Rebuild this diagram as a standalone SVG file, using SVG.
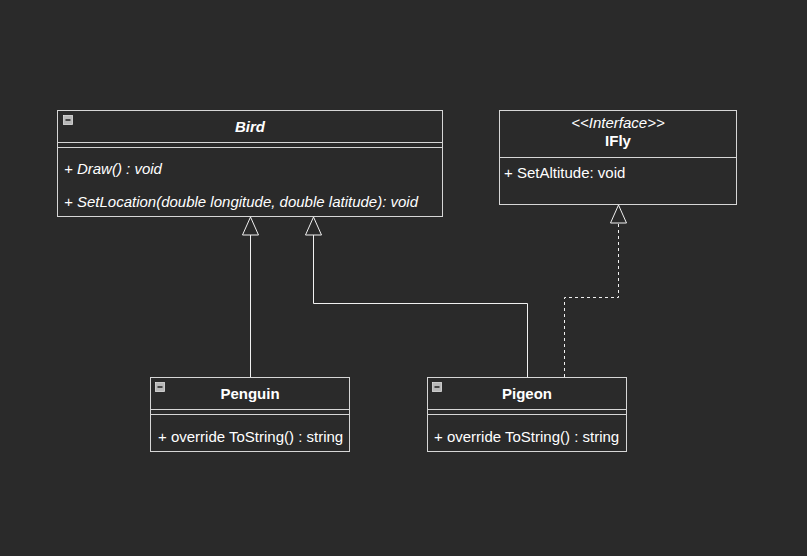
<svg xmlns="http://www.w3.org/2000/svg" width="807" height="556" viewBox="0 0 807 556">
  <defs>
    <style>
      .box { fill: #2a2a2a; stroke: #d6d6d6; stroke-width: 1; }
      .sep { stroke: #d6d6d6; stroke-width: 1; fill: none; }
      .edge { stroke: #f0f0f0; stroke-width: 1; fill: none; }
      .dash { stroke-dasharray: 3 3; }
      .head { fill: #2a2a2a; stroke: #f0f0f0; stroke-width: 1; }
      text { font-family: "Liberation Sans", Arial, sans-serif; font-size: 15px; fill: #ffffff; }
      .title { font-weight: bold; text-anchor: middle; }
      .it { font-style: italic; }
      .mid { text-anchor: middle; }
    </style>
    <!-- collapse toggle icon -->
    <g id="toggle">
      <rect x="0" y="0" width="9" height="9" fill="#b8b8b8" stroke="#e0e0e0" stroke-width="0.8"/>
      <line x1="2" y1="4.5" x2="7" y2="4.5" stroke="#2a2a2a" stroke-width="1.6"/>
    </g>
  </defs>

  <rect x="0" y="0" width="807" height="556" fill="#2a2a2a"/>

  <!-- connectors -->
  <g id="connectors">
    <!-- Penguin -> Bird (generalization) -->
    <path class="edge" d="M250.5 377 V235"/>
    <polygon class="head" points="250.5,217 242.5,235 258.5,235"/>
    <!-- Pigeon -> Bird (generalization) -->
    <path class="edge" d="M527.5 377 V303.5 H313.5 V235"/>
    <polygon class="head" points="313.5,217 305.5,235 321.5,235"/>
    <!-- Pigeon -> IFly (realization) -->
    <path class="edge dash" d="M564.5 377 V297.5 H618.5 V223"/>
    <polygon class="head" points="618.5,205 610.5,223 626.5,223"/>
  </g>

  <!-- Bird -->
  <g id="bird">
    <rect class="box" x="57.5" y="110.5" width="385" height="106"/>
    <line class="sep" x1="57.5" y1="142.5" x2="442.5" y2="142.5"/>
    <line class="sep" x1="57.5" y1="147.5" x2="442.5" y2="147.5"/>
    <use href="#toggle" x="63.5" y="115.5"/>
    <text class="title it" x="250" y="132">Bird</text>
    <text class="it" x="64" y="174">+ Draw() : void</text>
    <text class="it" x="64" y="207">+ SetLocation(double longitude, double latitude): void</text>
  </g>

  <!-- IFly -->
  <g id="ifly">
    <rect class="box" x="499.5" y="110.5" width="237" height="94"/>
    <line class="sep" x1="499.5" y1="157.5" x2="736.5" y2="157.5"/>
    <text class="it mid" x="618" y="128">&lt;&lt;Interface&gt;&gt;</text>
    <text class="title" x="618" y="146">IFly</text>
    <text x="504" y="178">+ SetAltitude: void</text>
  </g>

  <!-- Penguin -->
  <g id="penguin">
    <rect class="box" x="150.5" y="377.5" width="199" height="74"/>
    <line class="sep" x1="150.5" y1="409.5" x2="349.5" y2="409.5"/>
    <line class="sep" x1="150.5" y1="414.5" x2="349.5" y2="414.5"/>
    <use href="#toggle" x="155.5" y="382.5"/>
    <text class="title" x="250" y="399">Penguin</text>
    <text x="158" y="442">+ override ToString() : string</text>
  </g>

  <!-- Pigeon -->
  <g id="pigeon">
    <rect class="box" x="427.5" y="377.5" width="199" height="74"/>
    <line class="sep" x1="427.5" y1="409.5" x2="626.5" y2="409.5"/>
    <line class="sep" x1="427.5" y1="414.5" x2="626.5" y2="414.5"/>
    <use href="#toggle" x="432.5" y="382.5"/>
    <text class="title" x="527" y="399">Pigeon</text>
    <text x="434" y="442">+ override ToString() : string</text>
  </g>
</svg>
